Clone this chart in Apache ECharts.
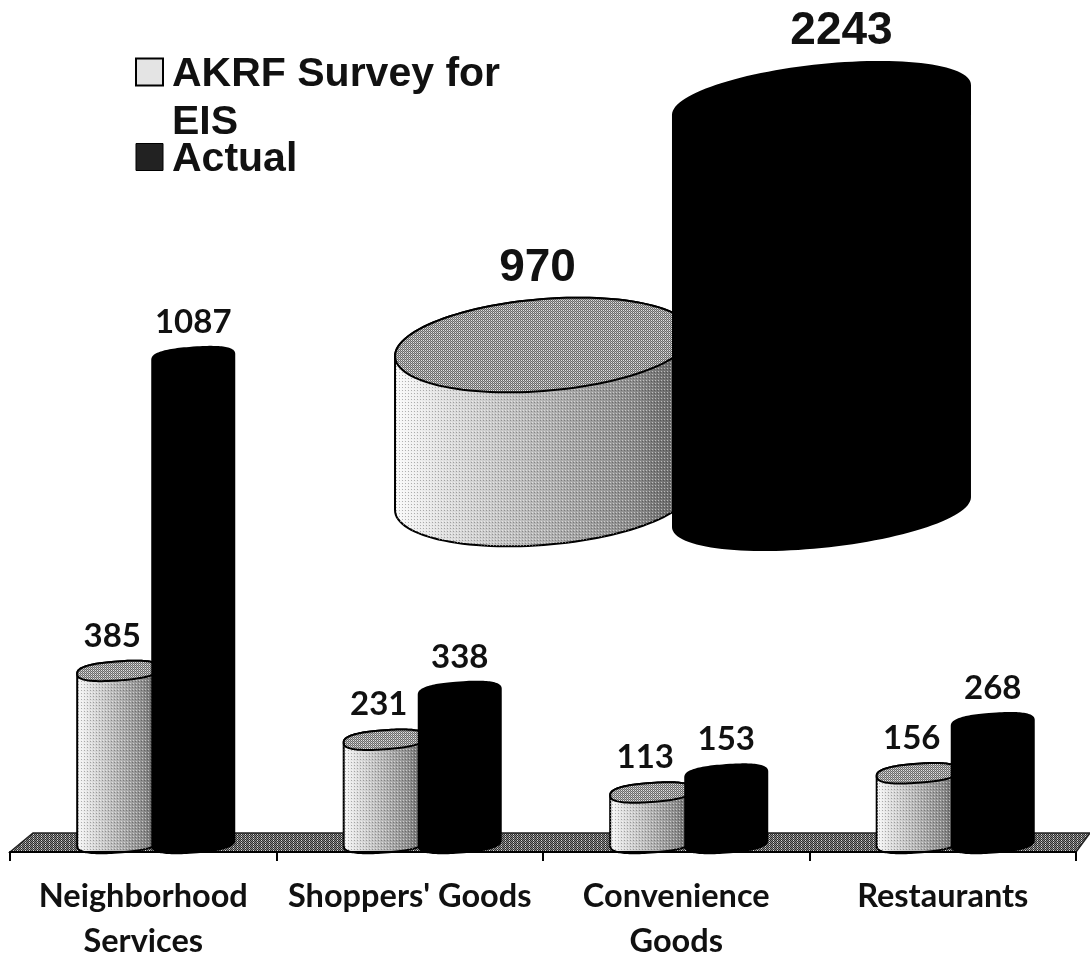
<!DOCTYPE html>
<html><head><meta charset="utf-8">
<style>html,body{margin:0;padding:0;background:#fff}#c{width:1090px;height:954px}</style>
<script src="https://cdn.jsdelivr.net/npm/echarts@6/dist/echarts.min.js"></script>
</head><body><div id="c"></div>
<script>
const categories = ['Neighborhood\nServices', "Shoppers' Goods", 'Convenience\nGoods', 'Restaurants'];
const akrfValues = [385, 231, 113, 156];
const actualValues = [1087, 338, 153, 268];
const insetCategories = ['Total'];
const insetAkrf = [970];
const insetActual = [2243];
const nameAkrf = 'AKRF Survey for EIS';
const nameActual = 'Actual';

const chart = echarts.init(document.getElementById('c'), null, {renderer:'canvas'});

function mkPattern(size, fn){
  const cv = document.createElement('canvas'); cv.width = cv.height = size;
  const c = cv.getContext('2d');
  for(let y=0;y<size;y++)for(let x=0;x<size;x++){c.fillStyle=fn(x,y);c.fillRect(x,y,1,1);}
  return {image:cv, repeat:'repeat'};
}
const floorFill = mkPattern(4,(x,y)=>((x+y)%2===0?'#2e2e2e':((x%4===1)?'#d8d8d8':'#8a8a8a')));
const topFill = mkPattern(4,(x,y)=>((x+y)%2===0?'#6a6a6a':((y%2===0)?'#e2e2e2':'#a8a8a8')));
const stipple = mkPattern(3,(x,y)=>((x===0&&y===0)?'rgba(0,0,0,0.28)':((x===1&&y===2)?'rgba(255,255,255,0.5)':'rgba(0,0,0,0)')));

function ringPoint(cx,cy,rx,ry,tilt,p,t){
  const c=Math.cos(t), s=Math.sin(t);
  const ux=Math.sign(c)*Math.pow(Math.abs(c),p), uy=Math.sign(s)*Math.pow(Math.abs(s),p);
  return [cx+rx*ux, cy+ry*uy-tilt*rx*ux];
}
function ring(cx,cy,rx,ry,tilt,p,a,b,n){
  const out=[];
  for(let i=0;i<=n;i++){out.push(ringPoint(cx,cy,rx,ry,tilt,p,a+(b-a)*i/n));}
  return out;
}
const lightBody = {type:'linear',x:0,y:0,x2:1,y2:0,colorStops:[
  {offset:0,color:'#fbfbfb'},{offset:0.18,color:'#dedede'},{offset:0.5,color:'#b4b4b4'},
  {offset:0.8,color:'#8c8c8c'},{offset:1,color:'#5a5a5a'}]};

function cylinderSeries(name, values, o){
  return {
    type:'custom', name, xAxisIndex:o.grid, yAxisIndex:o.grid, z:o.z,
    data: values.map((v,i)=>[i,v]),
    encode:{x:0,y:1},
    renderItem(params, api){
      const band = api.size([1,0])[0];
      const top = api.coord([api.value(0), api.value(1)]);
      const zero = params.coordSys.y + params.coordSys.height + o.baseShift;
      const cx = top[0] + o.offset*band, rx = o.width*band/2, cy = top[1];
      const N = 60, kids = [];
      const upper = ring(cx,cy,rx,o.ry,o.tilt,o.p,Math.PI,2*Math.PI,N);
      const lower = ring(cx,zero,rx,o.ry,o.tilt,o.p,0,Math.PI,N);
      const body = upper.concat(lower);
      const fill = o.dark ? '#000' : lightBody;
      kids.push({type:'polygon',shape:{points:body},style:{fill,stroke:'#000',lineWidth:o.line}});
      if(!o.dark){
        kids.push({type:'polygon',shape:{points:body},style:{fill:stipple}});
        const cap = ring(cx,cy,rx,o.ry,o.tilt,o.p,0,2*Math.PI,2*N);
        kids.push({type:'polygon',shape:{points:cap},style:{fill:topFill,stroke:'#000',lineWidth:o.line}});
      }
      kids.push({type:'text',style:{
        text:String(api.value(1)), x:cx+o.labelDx, y:cy-o.ry-o.labelGap,
        align:'center', verticalAlign:'middle',
        fontFamily:o.font, fontWeight:'bold', fontSize:o.fontSize, fill:'#111'}});
      return {type:'group',children:kids};
    }
  };
}
const smallOpts = {grid:0, width:0.3077, ry:9.5, tilt:0.07, p:0.8, baseShift:0, line:2, font:'Lato', fontSize:33, labelGap:25.5};
const bigOpts = {grid:1, width:0.5165, p:1, line:2, font:'Liberation Sans', fontSize:46};

const floorSeries = {
  type:'custom', xAxisIndex:0, yAxisIndex:0, z:1, silent:true, data:[[0,0]], encode:{x:0,y:1},
  renderItem(params, api){
    const g = params.coordSys, y0 = g.y+g.height+9, x0 = g.x, x1 = g.x+g.width;
    return {type:'polygon',shape:{points:[[x0,y0],[x0+23,y0-19],[x1+14,y0-19],[x1,y0]]},
      style:{fill:floorFill,stroke:'#222',lineWidth:1.5}};
  }
};
const legendIcon = 'path://M0 0L27 0L27 27L0 27Z M0 33L0 33';

chart.setOption({
  animation:false, backgroundColor:'#fff',
  legend:{
    left:135, top:3, orient:'vertical', padding:0, itemGap:-11, itemWidth:27, itemHeight:33,
    selectedMode:false,
    textStyle:{fontFamily:'Liberation Sans',fontWeight:'bold',fontSize:41,color:'#111',lineHeight:48,padding:[0,0,0,4]},
    formatter:n=> n===nameAkrf ? '\nAKRF Survey for\nEIS' : n,
    data:[
      {name:nameAkrf,icon:legendIcon,itemStyle:{color:'#e4e4e4',borderColor:'#000',borderWidth:2}},
      {name:nameActual,icon:legendIcon,itemStyle:{color:'#222',borderColor:'#000',borderWidth:1}}
    ]
  },
  grid:[
    {left:10,right:14,top:306.6,bottom:111,outerBoundsMode:'none'},
    {left:395,width:575,top:89,height:415,outerBoundsMode:'none'}
  ],
  xAxis:[
    {type:'category',gridIndex:0,data:categories,offset:9,z:5,
     axisLine:{onZero:false,lineStyle:{color:'#000',width:2}},
     axisTick:{show:true,length:9,lineStyle:{color:'#000',width:2}},
     axisLabel:{interval:0,margin:22,fontFamily:'Lato',fontWeight:'bold',fontSize:32.5,lineHeight:45,color:'#111'}},
    {type:'category',gridIndex:1,data:insetCategories,show:false}
  ],
  yAxis:[
    {type:'value',gridIndex:0,min:0,max:1200,show:false},
    {type:'value',gridIndex:1,min:144,max:2300,show:false}
  ],
  series:[
    floorSeries,
    cylinderSeries(nameAkrf,akrfValues,Object.assign({},smallOpts,{offset:-0.094,labelDx:-6,z:3})),
    cylinderSeries(nameActual,actualValues,Object.assign({},smallOpts,{offset:0.1876,labelDx:0,z:4,dark:true})),
    cylinderSeries(nameAkrf,insetAkrf,Object.assign({},bigOpts,{offset:-0.2417,ry:46,tilt:0.075,baseShift:-5,labelDx:-6,labelGap:31,z:3})),
    cylinderSeries(nameActual,insetActual,Object.assign({},bigOpts,{offset:0.2417,ry:35,tilt:0.1,baseShift:8,labelDx:20,labelGap:34,z:4,dark:true}))
  ]
});
</script></body></html>
